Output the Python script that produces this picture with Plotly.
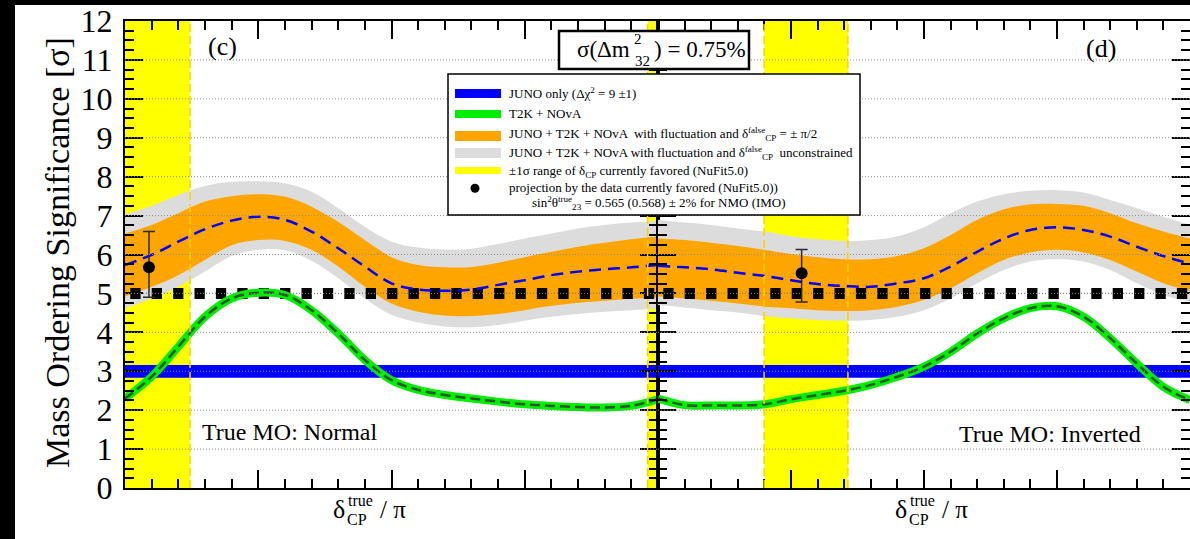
import plotly.graph_objects as go

# ---------------- data ----------------
DELTA = [-1.0, -0.9, -0.8, -0.7, -0.6, -0.5, -0.4, -0.3, -0.2, -0.1, 0.0,
         0.1, 0.2, 0.3, 0.4, 0.5, 0.6, 0.7, 0.8, 0.9, 1.0]

# Normal ordering panel (c)
NO_T2K_NOVA = [2.30, 2.86, 3.63, 4.40, 4.87, 5.02, 4.96, 4.57, 3.97, 3.29, 2.77,
               2.52, 2.39, 2.30, 2.22, 2.15, 2.11, 2.08, 2.07, 2.11, 2.28]
NO_MEDIAN = [5.73, 5.99, 6.33, 6.65, 6.87, 6.97, 6.89, 6.59, 6.16, 5.69, 5.26,
             5.10, 5.07, 5.10, 5.22, 5.34, 5.47, 5.56, 5.62, 5.67, 5.73]
NO_ORANGE_HI = [6.54, 6.76, 7.06, 7.36, 7.50, 7.55, 7.49, 7.23, 6.84, 6.37, 5.93,
                5.73, 5.67, 5.68, 5.79, 5.93, 6.07, 6.20, 6.30, 6.39, 6.46]
NO_ORANGE_LO = [4.92, 5.17, 5.47, 5.86, 6.24, 6.37, 6.35, 6.12, 5.69, 5.17, 4.74,
                4.53, 4.43, 4.42, 4.47, 4.57, 4.68, 4.76, 4.81, 4.86, 4.90]
NO_GREY_HI = [7.03, 7.25, 7.53, 7.76, 7.87, 7.88, 7.83, 7.61, 7.19, 6.71, 6.33,
              6.18, 6.13, 6.15, 6.27, 6.41, 6.54, 6.67, 6.76, 6.82, 6.87]
NO_GREY_LO = [4.62, 4.87, 5.17, 5.56, 5.96, 6.12, 6.11, 5.84, 5.39, 4.87, 4.45,
              4.25, 4.15, 4.13, 4.19, 4.30, 4.40, 4.47, 4.53, 4.57, 4.62]

# Inverted ordering panel (d)
IO_T2K_NOVA = [2.30, 2.13, 2.12, 2.12, 2.15, 2.28, 2.39, 2.50, 2.65, 2.86, 3.12,
               3.50, 3.97, 4.36, 4.62, 4.67, 4.40, 3.85, 3.20, 2.60, 2.26]
IO_MEDIAN = [5.71, 5.67, 5.62, 5.53, 5.45, 5.34, 5.24, 5.19, 5.17, 5.26, 5.39,
             5.69, 6.07, 6.41, 6.63, 6.70, 6.63, 6.46, 6.20, 5.96, 5.76]
IO_ORANGE_HI = [6.41, 6.37, 6.30, 6.22, 6.12, 6.01, 5.93, 5.88, 5.88, 5.96, 6.16,
                6.50, 6.89, 7.16, 7.29, 7.30, 7.25, 7.06, 6.80, 6.59, 6.41]
IO_ORANGE_LO = [4.92, 4.87, 4.81, 4.74, 4.66, 4.62, 4.57, 4.55, 4.57, 4.66, 4.83,
                5.13, 5.52, 5.86, 6.05, 6.12, 6.05, 5.86, 5.56, 5.26, 5.07]
IO_GREY_HI = [6.89, 6.82, 6.76, 6.67, 6.59, 6.47, 6.39, 6.35, 6.37, 6.47, 6.70,
              7.06, 7.36, 7.55, 7.64, 7.65, 7.59, 7.40, 7.19, 6.97, 6.76]
IO_GREY_LO = [4.70, 4.64, 4.57, 4.51, 4.42, 4.36, 4.32, 4.30, 4.32, 4.40, 4.57,
              4.87, 5.26, 5.60, 5.82, 5.88, 5.82, 5.60, 5.26, 4.96, 4.79]

JUNO_LO, JUNO_HI = 2.83, 3.16          # JUNO only, Delta chi^2 = 9 +- 1
SIGMA5 = 5.0                           # 5 sigma reference line
BAND_X = [-1.0, 1.0]

YELLOW_NO = [[-1.0, -0.756], [0.961, 1.0]]   # NuFit5.0 1 sigma, NO
YELLOW_IO = [[-0.601, -0.286]]               # NuFit5.0 1 sigma, IO

DOT_NO = {"x": -0.91, "y": 5.67, "hi": 6.59, "lo": 4.90}
DOT_IO = {"x": -0.46, "y": 5.52, "hi": 6.13, "lo": 4.78}

Y_TICKS = list(range(0, 13))

# ---------------- styling ----------------
W, H = 1190, 539
FONT = "Liberation Serif"
GREY = "rgb(220,220,220)"
ORANGE = "rgb(255,165,0)"
BLUE = "rgb(0,0,255)"
GREEN = "rgb(0,238,0)"
DKGREEN = "rgb(45,85,45)"
YELLOW = "rgb(255,255,0)"
YEDGE = "rgb(255,208,0)"


def PX(x):
    return x / W


def PY(y):
    return 1 - y / H


fig = go.Figure()

panels = [
    ("x", "y", NO_T2K_NOVA, NO_MEDIAN, NO_ORANGE_LO, NO_ORANGE_HI, NO_GREY_LO, NO_GREY_HI, DOT_NO),
    ("x2", "y2", IO_T2K_NOVA, IO_MEDIAN, IO_ORANGE_LO, IO_ORANGE_HI, IO_GREY_LO, IO_GREY_HI, DOT_IO),
]

common = dict(showlegend=False, hoverinfo="skip", mode="lines")
for xa, ya, green, med, olo, ohi, glo, ghi, dot in panels:
    ax = dict(xaxis=xa, yaxis=ya)
    # grey band
    fig.add_trace(go.Scatter(x=DELTA, y=glo, line=dict(width=0, shape="spline"), **ax, **common))
    fig.add_trace(go.Scatter(x=DELTA, y=ghi, line=dict(width=0, shape="spline"),
                             fill="tonexty", fillcolor=GREY, **ax, **common))
    # orange band
    fig.add_trace(go.Scatter(x=DELTA, y=olo, line=dict(width=0, shape="spline"), **ax, **common))
    fig.add_trace(go.Scatter(x=DELTA, y=ohi, line=dict(width=0, shape="spline"),
                             fill="tonexty", fillcolor=ORANGE, **ax, **common))
    # JUNO only band
    fig.add_trace(go.Scatter(x=BAND_X, y=[JUNO_LO, JUNO_LO], line=dict(width=0), **ax, **common))
    fig.add_trace(go.Scatter(x=BAND_X, y=[JUNO_HI, JUNO_HI], line=dict(width=0),
                             fill="tonexty", fillcolor=BLUE, **ax, **common))
    # 5 sigma line (thin dotted + big squares)
    fig.add_trace(go.Scatter(x=BAND_X, y=[SIGMA5, SIGMA5],
                             line=dict(color="black", width=1, dash="1px,2px"), **ax, **common))
    fig.add_trace(go.Scatter(x=BAND_X, y=[SIGMA5, SIGMA5],
                             line=dict(color="black", width=11, dash="0px,5.3px,10.3px,5.8px"),
                             **ax, **common))
    # T2K + NOvA
    fig.add_trace(go.Scatter(x=DELTA, y=green, line=dict(color=GREEN, width=8, shape="spline"),
                             **ax, **common))
    fig.add_trace(go.Scatter(x=DELTA, y=green,
                             line=dict(color=DKGREEN, width=2.5, shape="spline", dash="10px,5px"),
                             **ax, **common))
    # median of combined
    fig.add_trace(go.Scatter(x=DELTA, y=med,
                             line=dict(color=BLUE, width=2.5, shape="spline", dash="12px,7px"),
                             **ax, **common))
    # projection point
    fig.add_trace(go.Scatter(x=[dot["x"]], y=[dot["y"]], mode="markers",
                             marker=dict(size=12, color="black"),
                             error_y=dict(type="data", symmetric=False,
                                          array=[dot["hi"] - dot["y"]],
                                          arrayminus=[dot["y"] - dot["lo"]],
                                          color="rgb(40,40,40)", thickness=1.5, width=6),
                             showlegend=False, hoverinfo="skip", **ax))

shapes = []
# white page area (outer black border of screenshot)
shapes.append(dict(type="rect", xref="paper", yref="paper", x0=PX(15), x1=1, y0=0, y1=PY(5),
                   fillcolor="white", line=dict(width=0), layer="below"))
# yellow NuFit bands
for xr, bands in (("x", YELLOW_NO), ("x2", YELLOW_IO)):
    for a, b in bands:
        shapes.append(dict(type="rect", xref=xr, yref="y domain", x0=a, x1=b, y0=0, y1=1,
                           fillcolor=YELLOW, line=dict(width=0), layer="below"))
# dotted grid lines above everything
for v in Y_TICKS[1:-1]:
    for xr in ("x domain", "x2 domain"):
        shapes.append(dict(type="line", xref=xr, yref="y", x0=0, x1=1, y0=v, y1=v,
                           line=dict(color="rgb(140,140,140)", width=1, dash="1px,2px"),
                           layer="above"))
# dashed edges of yellow bands
for xr, bands in (("x", YELLOW_NO), ("x2", YELLOW_IO)):
    for a, b in bands:
        for e in (a, b):
            if abs(e) < 1.0:
                shapes.append(dict(type="line", xref=xr, yref="y domain", x0=e, x1=e, y0=0, y1=1,
                                   line=dict(color=YEDGE, width=1.5, dash="8px,4px"),
                                   layer="above"))

# legend box
shapes.append(dict(type="rect", xref="paper", yref="paper", x0=PX(448), x1=PX(860),
                   y0=PY(215), y1=PY(74), fillcolor="white",
                   line=dict(color="black", width=1.5), layer="above"))
sw = [(BLUE, 89, 98), (GREEN, 110, 118), (ORANGE, 131, 141), (GREY, 148, 158), (YELLOW, 167, 174)]
for col, t, b in sw:
    shapes.append(dict(type="rect", xref="paper", yref="paper", x0=PX(455), x1=PX(501),
                       y0=PY(b), y1=PY(t), fillcolor=col, line=dict(width=0), layer="above"))
shapes.append(dict(type="circle", xref="paper", yref="paper", x0=PX(470.5), x1=PX(479.5),
                   y0=PY(192.8), y1=PY(183.8), fillcolor="black", line=dict(width=0), layer="above"))
# sigma box
shapes.append(dict(type="rect", xref="paper", yref="paper", x0=PX(559), x1=PX(749),
                   y0=PY(69), y1=PY(31), fillcolor="white",
                   line=dict(color="black", width=2.5), layer="above"))

ann = []


def txt(x, y, s, size, xanchor="center", yanchor="middle", angle=0):
    ann.append(dict(x=PX(x), y=PY(y), xref="paper", yref="paper", text=s, showarrow=False,
                    xanchor=xanchor, yanchor=yanchor, textangle=angle,
                    font=dict(family=FONT, size=size, color="black")))


# legend texts
LS = 13
txt(507, 93.5, "JUNO only (Δχ<sup>2</sup> = 9 ±1)", LS, "left")
txt(507, 113, "T2K + NOvA", LS, "left")
txt(507, 134, "JUNO + T2K + NOvA  with fluctuation and δ<sup>false</sup><sub>CP</sub> = ± π/2", LS, "left")
txt(507, 153, "JUNO + T2K + NOvA with fluctuation and δ<sup>false</sup><sub>CP</sub>  unconstrained", LS, "left")
txt(507, 171.5, "±1σ range of δ<sub>CP</sub> currently favored (NuFit5.0)", LS, "left")
txt(507, 188, "projection by the data currently favored (NuFit5.0))", LS, "left")
txt(530, 203, "sin<sup>2</sup>θ<sup>true</sup><sub>23</sub> = 0.565 (0.568) ± 2% for NMO (IMO)", LS, "left")

# sigma box text
txt(632, 50, "σ(Δm", 23, "right")
txt(632, 39, "2", 15, "left")
txt(633, 61, "32", 15, "left")
txt(652, 50, ") = 0.75%", 23, "left")

# panel labels
txt(222, 47, "(c)", 26)
txt(1101, 48, "(d)", 26)
txt(200, 432, "True MO: Normal", 24, "left")
txt(957, 434, "True MO: Inverted", 24, "left")

# x titles
for off in (0, 562):
    txt(339 + off, 509, "δ", 26)
    txt(346 + off, 500, "true", 16, "left")
    txt(345 + off, 519, "CP", 16, "left")
    txt(378 + off, 509, "/ π", 25, "left")

# y title
txt(57, 253, "Mass Ordering Significance [σ]", 34, angle=-90)

xcommon = dict(range=[-1, 1], showline=True, linecolor="black", linewidth=2, mirror="ticks",
               ticks="inside", ticklen=18, tickwidth=1.5, tickcolor="black", tick0=-1, dtick=0.5,
               minor=dict(ticks="inside", ticklen=9, tickwidth=1.5, tickcolor="black", dtick=0.1),
               showticklabels=False, showgrid=False, zeroline=False, automargin=False)
ycommon = dict(range=[0, 12], domain=[1 - 488 / H, 1 - 21 / H], showline=True, linecolor="black",
               linewidth=2, mirror="ticks", ticks="inside", ticklen=18, tickwidth=1.5,
               tickcolor="black", tickvals=Y_TICKS, ticktext=[str(t) for t in Y_TICKS],
               minor=dict(ticks="inside", ticklen=9, tickwidth=1.5, tickcolor="black", dtick=0.25),
               showgrid=False, zeroline=False, automargin=False,
               tickfont=dict(family=FONT, size=32, color="black"))

fig.update_layout(
    width=W, height=H, autosize=False,
    margin=dict(l=0, r=0, t=0, b=0, pad=0, autoexpand=False),
    paper_bgcolor="black", plot_bgcolor="white", showlegend=False,
    xaxis=dict(domain=[125 / W, 658 / W], anchor="y", **xcommon),
    xaxis2=dict(domain=[658 / W, 1.0], anchor="y2", **xcommon),
    yaxis=dict(anchor="x", ticklabelstandoff=4, **ycommon),
    yaxis2=dict(anchor="x2", matches="y", showticklabels=False, **{k: v for k, v in ycommon.items() if k != "tickfont"}),
    shapes=shapes, annotations=ann,
)

fig.write_html("out.html")
